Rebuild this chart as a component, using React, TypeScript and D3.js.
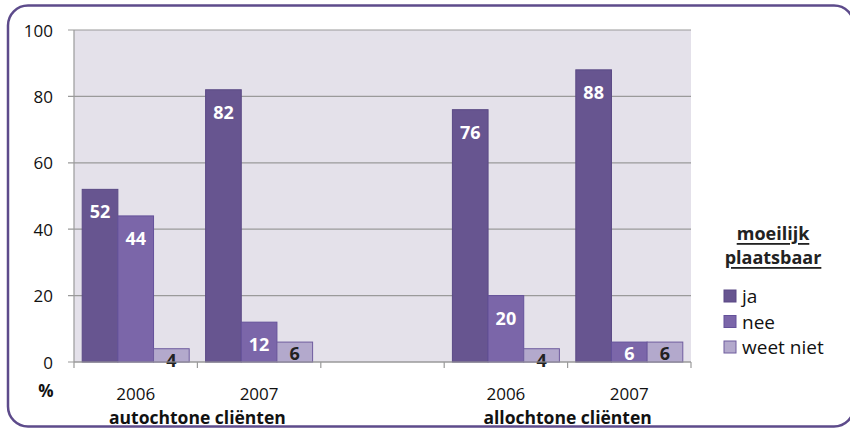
import React from 'react'
import * as d3 from 'd3'

const W = 850
const H = 430
const PLOT = { left: 74, right: 691, top: 30, bottom: 362 }

const CATEGORIES = ['a2006', 'a2007', 'gap', 'b2006', 'b2007']
const CATEGORY_LABELS = ['2006', '2007', '', '2006', '2007']
const GROUPS = [
  { label: 'autochtone cliënten', from: 'a2006', to: 'a2007' },
  { label: 'allochtone cliënten', from: 'b2006', to: 'b2007' },
]
const SERIES = ['ja', 'nee', 'weet niet']
const JA = [52, 82, null, 76, 88]
const NEE = [44, 12, null, 20, 6]
const WEET_NIET = [4, 6, null, 4, 6]
const Y_TICKS = [0, 20, 40, 60, 80, 100]

const COLORS = ['#675590', '#7b66a9', '#b3a9cc']
const STROKES = ['#5a4985', '#64519a', '#6f5c9e']
const LABEL_COLORS = ['#ffffff', '#ffffff', '#222222']
const FONT = '"Open Sans", Lato, sans-serif'

export default function App() {
  const values = [JA, NEE, WEET_NIET]

  const x0 = d3.scaleBand<string>().domain(CATEGORIES).range([PLOT.left, PLOT.right]).padding(0)
  const x1 = d3.scaleBand<string>().domain(SERIES).range([0, x0.bandwidth()])
    .paddingInner(0).paddingOuter(0.23)
  const y = d3.scaleLinear().domain([0, 100]).range([PLOT.bottom, PLOT.top])

  const boundaries = CATEGORIES.map(c => x0(c)!).concat([PLOT.right])

  return (
    <svg width={W} height={H} style={{ position: 'absolute', left: 0, top: 0, fontFamily: FONT }}>
      <rect x={0} y={0} width={W} height={H} fill="#ffffff" />
      {/* frame */}
      <rect x={8} y={5.5} width={846} height={421} rx={20} ry={20}
        fill="none" stroke="#5d4b8b" strokeWidth={2.5} />

      {/* plot area */}
      <rect x={PLOT.left} y={PLOT.top} width={PLOT.right - PLOT.left} height={PLOT.bottom - PLOT.top}
        fill="#e4e1ea" />
      {Y_TICKS.map(t => (
        <g key={t}>
          <line x1={PLOT.left - 6} x2={PLOT.right} y1={y(t)} y2={y(t)} stroke="#9a9a9a" strokeWidth={1.2} />
          <text x={53} y={y(t)} textAnchor="end" dominantBaseline="central" fontSize={17} fill="#111">{t}</text>
        </g>
      ))}
      <line x1={PLOT.left} x2={PLOT.left} y1={PLOT.top} y2={PLOT.bottom} stroke="#9a9a9a" strokeWidth={1.2} />

      {/* bars */}
      {CATEGORIES.map((c, ci) => (
        <g key={c} transform={`translate(${x0(c)},0)`}>
          {SERIES.map((s, si) => {
            const v = values[si][ci]
            if (v == null) return null
            const top = y(v)
            const ly = v >= 10 ? top + 22 : top + 11
            return (
              <g key={s}>
                <rect x={x1(s)!} y={top} width={x1.bandwidth()} height={PLOT.bottom - top}
                  fill={COLORS[si]} stroke={STROKES[si]} strokeWidth={1} />
                <text x={x1(s)! + x1.bandwidth() / 2} y={ly} textAnchor="middle" dominantBaseline="central"
                  fontSize={18} fontWeight={700} fill={LABEL_COLORS[si]}>{v}</text>
              </g>
            )
          })}
        </g>
      ))}

      {/* x axis */}
      <line x1={PLOT.left} x2={PLOT.right} y1={PLOT.bottom} y2={PLOT.bottom} stroke="#9a9a9a" strokeWidth={1.2} />
      {boundaries.map((b, i) => (
        <line key={i} x1={b} x2={b} y1={PLOT.bottom} y2={PLOT.bottom + 6} stroke="#9a9a9a" strokeWidth={1.2} />
      ))}
      {CATEGORIES.map((c, i) => (
        <text key={c} x={x0(c)! + x0.bandwidth() / 2} y={393} textAnchor="middle" dominantBaseline="central"
          fontSize={17} fill="#111">{CATEGORY_LABELS[i]}</text>
      ))}
      {GROUPS.map(g => (
        <text key={g.label} x={(x0(g.from)! + x0(g.to)! + x0.bandwidth()) / 2} y={417} textAnchor="middle"
          dominantBaseline="central" fontSize={17.5} fontWeight={700} fill="#111">{g.label}</text>
      ))}
      <text x={46} y={390} textAnchor="middle" dominantBaseline="central" fontSize={17} fontWeight={700} fill="#111">%</text>

      {/* legend */}
      <text x={773} y={233} textAnchor="middle" dominantBaseline="central" fontSize={18} fontWeight={700}
        fill="#222" textDecoration="underline">moeilijk</text>
      <text x={773} y={257} textAnchor="middle" dominantBaseline="central" fontSize={18} fontWeight={700}
        fill="#222" textDecoration="underline">plaatsbaar</text>
      {SERIES.map((s, i) => (
        <g key={s} transform={`translate(724,${296 + i * 25.5})`}>
          <rect x={0} y={-6} width={12} height={12} fill={COLORS[i]} stroke={STROKES[i]} strokeWidth={1} />
          <text x={18} y={0} dominantBaseline="central" fontSize={19} fill="#111">{s}</text>
        </g>
      ))}
    </svg>
  )
}
